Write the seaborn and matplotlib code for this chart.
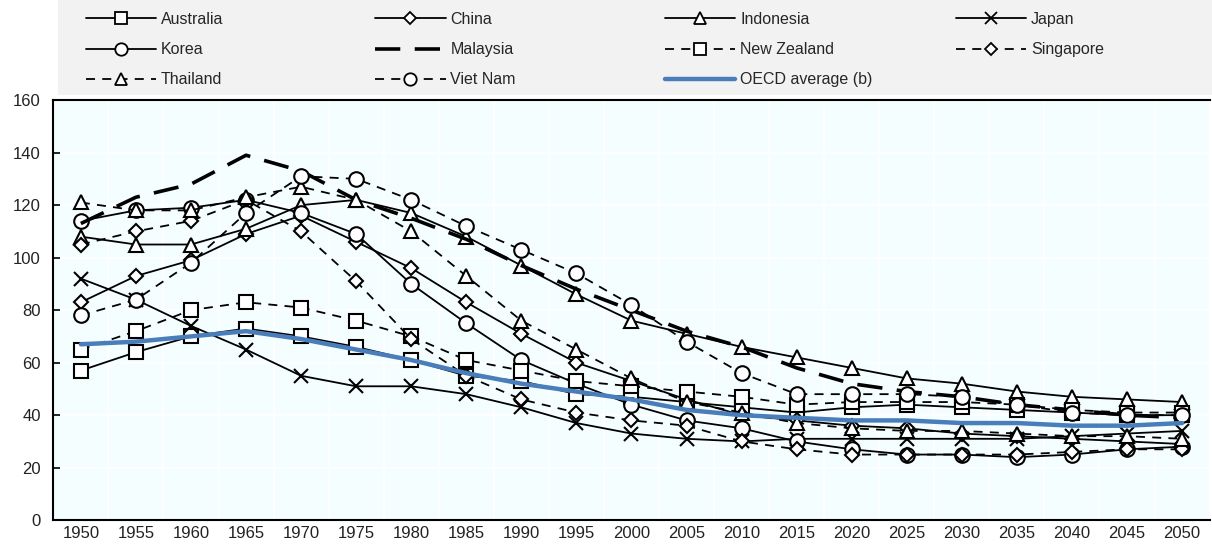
import numpy as np
import matplotlib
matplotlib.use("Agg")
import matplotlib.pyplot as plt
import seaborn as sns
from matplotlib.lines import Line2D
from matplotlib.patches import Rectangle


YEARS = ["1950", "1955", "1960", "1965", "1970", "1975", "1980", "1985", "1990", "1995",
         "2000", "2005", "2010", "2015", "2020", "2025", "2030", "2035", "2040", "2045", "2050"]

AUSTRALIA = [57, 64, 70, 73, 70, 66, 61, 55, 53, 48, 47, 45, 43, 41, 43, 44, 43, 42, 41, 40, 40]
CHINA = [83, 93, 99, 109, 116, 106, 96, 83, 71, 60, 53, 46, 40, 38, 36, 35, 33, 32, 31, 30, 29]
INDONESIA = [108, 105, 105, 111, 120, 122, 117, 108, 97, 86, 76, 71, 66, 62, 58, 54, 52, 49, 47, 46, 45]
JAPAN = [92, 84, 74, 65, 55, 51, 51, 48, 43, 37, 33, 31, 30, 31, 31, 31, 31, 31, 32, 33, 34]
KOREA = [114, 118, 119, 122, 117, 109, 90, 75, 61, 52, 44, 38, 35, 30, 27, 25, 25, 24, 25, 27, 28]
MALAYSIA = [113, 123, 128, 139, 133, 122, 115, 107, 97, 88, 80, 72, 66, 58, 52, 49, 47, 44, 42, 40, 39]
NEW_ZEALAND = [65, 72, 80, 83, 81, 76, 70, 61, 57, 53, 51, 49, 47, 44, 45, 45, 45, 44, 42, 41, 41]
SINGAPORE = [105, 110, 114, 122, 110, 91, 69, 55, 46, 41, 38, 36, 30, 27, 25, 25, 25, 25, 26, 27, 27]
THAILAND = [121, 118, 118, 123, 127, 122, 110, 93, 76, 65, 54, 45, 41, 37, 35, 34, 34, 33, 32, 32, 31]
VIET_NAM = [78, 84, 98, 117, 131, 130, 122, 112, 103, 94, 82, 68, 56, 48, 48, 48, 47, 44, 41, 40, 40]
OECD = [67, 68, 70, 72, 69, 65, 61, 56, 52, 49, 46, 42, 40, 39, 38, 38, 37, 37, 36, 36, 37]

SOLID = "-"
DASHED = (0, (5, 4))
LONGDASH = (0, (7, 4))

# name, values, marker, marker size, linestyle
SERIES = [
    ("Australia", AUSTRALIA, "s", 10, SOLID),
    ("China", CHINA, "D", 7.5, SOLID),
    ("Indonesia", INDONESIA, "^", 10, SOLID),
    ("Japan", JAPAN, "x", 9.5, SOLID),
    ("Korea", KOREA, "o", 10.5, SOLID),
    ("Malaysia", MALAYSIA, None, 0, LONGDASH),
    ("New Zealand", NEW_ZEALAND, "s", 10, DASHED),
    ("Singapore", SINGAPORE, "D", 7.5, DASHED),
    ("Thailand", THAILAND, "^", 10, DASHED),
    ("Viet Nam", VIET_NAM, "o", 10.5, DASHED),
]

OECD_COLOR = "#4A7EBB"
FONT = ["Liberation Sans", "DejaVu Sans"]

# legend columns, row by row as in the source
LEGEND_COLUMNS = [
    ["Australia", "Korea", "Thailand"],
    ["China", "Malaysia", "Viet Nam"],
    ["Indonesia", "New Zealand", "OECD average (b)"],
    ["Japan", "Singapore"],
]
LEGEND_X = [0.068, 0.307, 0.546, 0.786]


def main():
    sns.set_theme(style="white")
    plt.rcParams["font.family"] = FONT

    fig = plt.figure(figsize=(12.12, 5.47), dpi=100)
    ax = fig.add_axes([0.044, 0.049, 0.954, 0.768])
    ax.set_facecolor("#F4FEFF")

    x = np.arange(len(YEARS))
    handles = {}

    for name, values, marker, msize, ls in SERIES:
        lw = 2.6 if name == "Malaysia" else 1.3
        sns.lineplot(
            x=x, y=values, ax=ax, color="black", linewidth=lw, linestyle=ls,
            marker=marker, markersize=msize, markerfacecolor="white",
            markeredgecolor="black", markeredgewidth=1.5, zorder=3,
        )
        handles[name] = Line2D(
            [], [], color="black", linewidth=lw, linestyle=ls, marker=marker,
            markersize=msize * 0.85, markerfacecolor="white",
            markeredgecolor="black", markeredgewidth=1.3,
        )

    sns.lineplot(x=x, y=OECD, ax=ax, color=OECD_COLOR, linewidth=3.2, zorder=4)
    handles["OECD average (b)"] = Line2D([], [], color=OECD_COLOR, linewidth=3.2)

    ax.set_xlim(-0.5, len(YEARS) - 0.5)
    ax.set_ylim(0, 160)
    ax.set_yticks(np.arange(0, 161, 20))
    ax.set_xticks(x)
    ax.set_xticklabels(YEARS)
    ax.set_xticks(np.arange(-0.5, len(YEARS)), minor=True)
    ax.tick_params(axis="x", which="major", length=0, labelsize=12, pad=4, labelcolor="#222222")
    ax.tick_params(axis="x", which="minor", direction="in", length=5, width=1.2, color="black")
    ax.tick_params(axis="y", direction="in", length=5, width=1.2, color="black", labelsize=12,
                   pad=9, left=True, labelcolor="#222222")
    ax.set_xlabel("")
    ax.set_ylabel("")

    ax.grid(True, axis="y", color="white", linewidth=1.2)
    ax.grid(True, axis="x", which="minor", color="white", linewidth=1.2)
    ax.set_axisbelow(True)

    for side in ["left", "bottom", "top"]:
        ax.spines[side].set_color("black")
        ax.spines[side].set_linewidth(1.5)
    ax.spines["right"].set_visible(False)

    # grey legend band
    fig.patches.append(Rectangle((0.048, 0.826), 0.952, 0.174, transform=fig.transFigure,
                                 facecolor="#F2F2F2", edgecolor="none", zorder=0))

    for names, xpos in zip(LEGEND_COLUMNS, LEGEND_X):
        fig.legend(
            [handles[n] for n in names], names, loc="upper left",
            bbox_to_anchor=(xpos, 0.984), frameon=False, handlelength=4.4,
            handletextpad=0.3, fontsize=11.5, borderaxespad=0, labelspacing=0.95,
            borderpad=0.2,
        )

    fig.savefig("out.png", dpi=100)


if __name__ == "__main__":
    main()
